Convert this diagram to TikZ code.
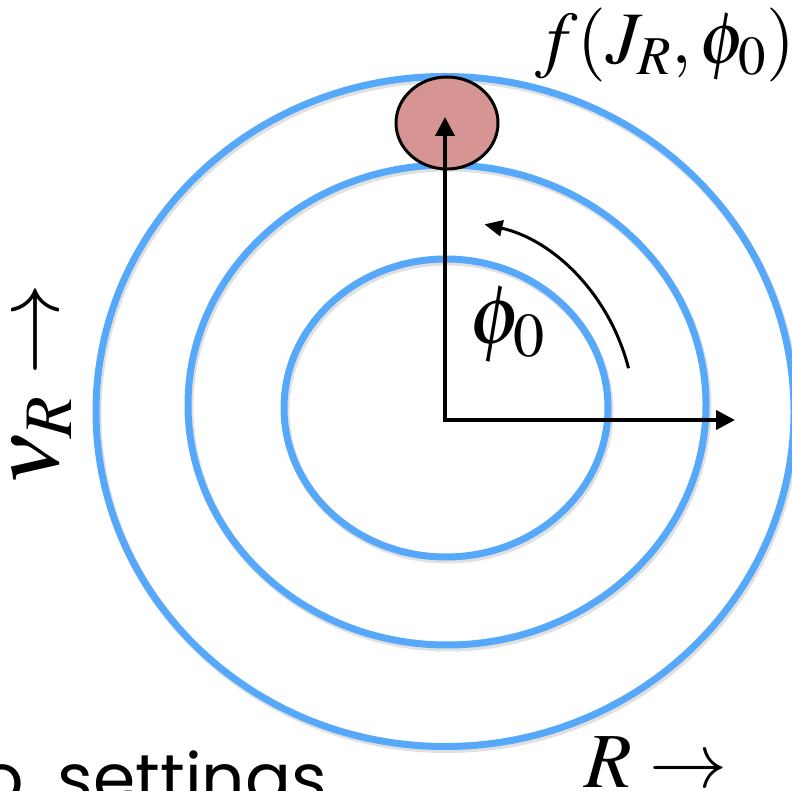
\documentclass[tikz,border=0pt]{standalone}
\usepackage{mathptmx}
\usepackage[no-math]{fontspec}
\newfontfamily\handfont{Poppins}
\usetikzlibrary{arrows.meta,shapes.geometric}
\definecolor{ringblue}{RGB}{86,168,250}
\definecolor{blobred}{RGB}{214,149,146}
\tikzset{bigtip/.tip={Triangle[length=19pt,width=19pt]}}
\begin{document}
\begin{tikzpicture}[x=1pt,y=1pt,
  ring/.style={draw=ringblue, line width=7pt, ellipse, inner sep=0pt, outer sep=0pt},
  ringshadow/.style={draw=black, line width=8pt, opacity=0.12},
  axisline/.style={line width=4pt, line join=miter},
  lbl/.style={font=\fontsize{74}{80}\selectfont, inner sep=0pt}]
\useasboundingbox (0,0) rectangle (792,790);
\clip (0,0) rectangle (792,790);
% soft shadows of the rings
\draw[ringshadow] (446.5,376) ellipse [x radius=349, y radius=335];
\draw[ringshadow] (448.5,382.5) ellipse [x radius=259, y radius=240];
\draw[ringshadow] (447.5,379.5) ellipse [x radius=162, y radius=149];
% rings
\node[ring, minimum width=698pt, minimum height=670pt] (outer) at (445,378.5) {};
\node[ring, minimum width=518pt, minimum height=480pt] (middle) at (447,385) {};
\node[ring, minimum width=324pt, minimum height=298pt] (inner) at (446,382) {};
% blob
\node[ellipse, draw=black, line width=3pt, fill=blobred, minimum width=102pt, minimum height=92pt, inner sep=0pt] (blob) at (447,667) {};
% axes
\coordinate (O) at (445,370);
\coordinate (vtip) at (445,673);
\coordinate (htip) at (735,370);
\draw[axisline, bigtip-bigtip] (vtip) -- (O) -- (htip);
% angle arrow
\coordinate (arcstart) at (628.5,421.8);
\draw[line width=3pt, -{Triangle[length=18pt,width=16pt]}] (arcstart) arc[start angle=15, end angle=78, x radius=190, y radius=200];
% labels
\node[lbl] (flabel) at (665,745) {$f(J_R,\phi_0)$};
\node[lbl, font=\fontsize{84}{90}\selectfont] (philabel) at (507,465) {$\phi_0$};
\node[lbl, font=\fontsize{92}{100}\selectfont, rotate=90, anchor=base] (nulabel) at (58,405) {$\nu_R\rightarrow$};
\node[lbl, font=\fontsize{78}{84}\selectfont, anchor=base west] (rlabel) at (584,3) {$R\rightarrow$};
\node[font=\handfont\fontsize{68}{72}\selectfont, anchor=base west, inner sep=0pt] (settings) at (-20,-12) {o\hspace{16pt} settings};
\end{tikzpicture}
\end{document}
